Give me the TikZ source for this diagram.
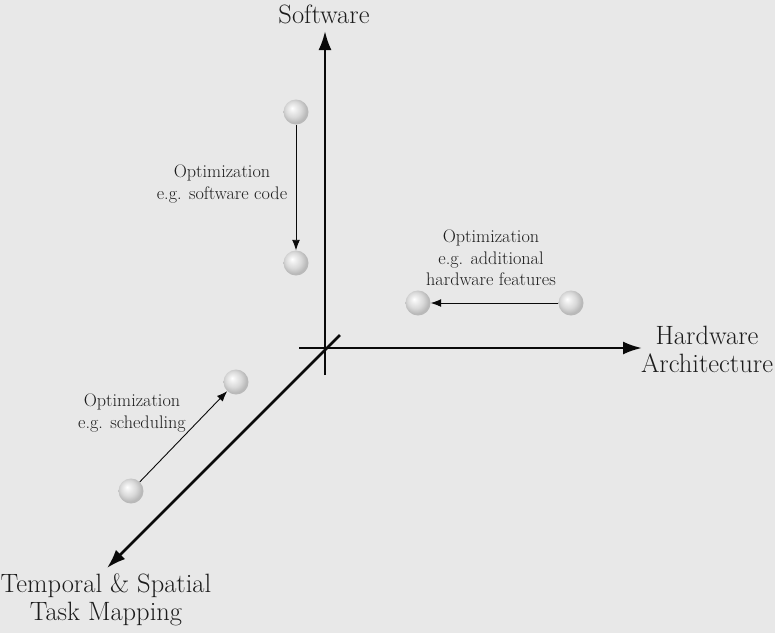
\documentclass[tikz,border=0pt]{standalone}
\usetikzlibrary{arrows.meta}
\definecolor{bg}{RGB}{232,232,232}
\definecolor{ink}{RGB}{10,10,10}
\definecolor{txt}{RGB}{28,28,28}
% soft matte sphere, lit from the upper left
\pgfdeclareradialshading{matteball}{\pgfpoint{-8bp}{8bp}}{%
  color(0bp)=(white); color(6bp)=(gray!12); color(16bp)=(gray!30);
  color(25bp)=(gray!55); color(50bp)=(gray!55)}
\begin{document}
\begin{tikzpicture}[x=1pt,y=-1pt,
  axis/.style={draw=ink,line width=2.5pt,-{Latex[length=19pt,width=13pt]}},
  opt/.style={draw=ink,line width=0.9pt,-{Latex[length=10.5pt,width=8pt]}},
  ball/.style={circle,minimum size=25pt,inner sep=0pt,shading=matteball},
  biglabel/.style={text=txt,font=\fontsize{26.5}{28}\selectfont,align=center},
  smalllabel/.style={text=txt,font=\fontsize{18.2}{21.5}\selectfont,align=center}]
  % canvas
  \fill[bg] (0,0) rectangle (775,633);
  \useasboundingbox (0,0) rectangle (775,633);

  % axes meeting at the origin
  \coordinate (vbot) at (325,375);
  \coordinate (hleft) at (299,348);
  \coordinate (dtop) at (340,335);
  \coordinate (swtip) at (325,31);
  \coordinate (hwtip) at (642,348);
  \coordinate (tmtip) at (107,568);
  \draw[axis] (vbot) -- (swtip);
  \draw[axis] (hleft) -- (hwtip);
  \draw[axis] (dtop) -- (tmtip);

  % axis names
  \node[biglabel] (sw) at (324,14) {Software};
  \node[biglabel] (hw) at (707,349) {Hardware\\Architecture};
  \node[biglabel] (tm) at (106,600) {Temporal \& Spatial\\Task Mapping};

  % software optimisation
  \node[ball] (s1) at (296,112) {};
  \node[ball] (s2) at (296,263) {};
  \draw[opt] (s1) -- (s2);
  \node[smalllabel] (sl) at (222,184) {Optimization\\e.g. software code};

  % hardware optimisation
  \node[ball] (h1) at (571,303) {};
  \node[ball] (h2) at (418,303) {};
  \draw[opt] (h1) -- (h2);
  \node[smalllabel] (hl) at (491,258) {Optimization\\e.g. additional\\hardware features};

  % mapping optimisation
  \node[ball] (m1) at (131,491) {};
  \node[ball] (m2) at (236,382) {};
  \draw[opt] (m1) -- (m2);
  \node[smalllabel] (ml) at (132,413) {Optimization\\e.g. scheduling};
\end{tikzpicture}
\end{document}
